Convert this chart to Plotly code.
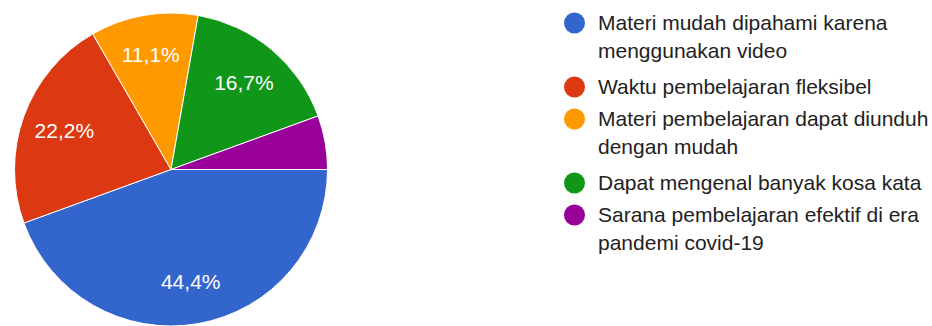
import plotly.graph_objects as go

labels = [
    "Materi mudah dipahami karena<br>menggunakan video",
    "Waktu pembelajaran fleksibel",
    "Materi pembelajaran dapat diunduh<br>dengan mudah",
    "Dapat mengenal banyak kosa kata",
    "Sarana pembelajaran efektif di era<br>pandemi covid-19",
]
values = [8, 4, 2, 3, 1]
colors = ["#3366cc", "#dc3912", "#ff9900", "#109618", "#990099"]
show_label = [True, True, True, True, False]

W, H = 932, 326
MT = 13
PH = H - MT
FONT = "Arial, 'Liberation Sans', sans-serif"

flat_labels = [l.replace("<br>", " ") for l in labels]
dom = dict(x=[14.5 / W, 327.5 / W], y=[0, 1])

fig = go.Figure()
fig.add_trace(go.Pie(
    labels=flat_labels,
    values=values,
    sort=False,
    direction="clockwise",
    rotation=90,
    marker=dict(colors=colors, line=dict(color="white", width=1)),
    textinfo="none",
    showlegend=False,
    hoverinfo="label+percent",
    domain=dom,
))
# transparent ring carrying the percentage labels (places them further out)
fig.add_trace(go.Pie(
    labels=flat_labels,
    values=values,
    sort=False,
    direction="clockwise",
    rotation=90,
    hole=0.45,
    marker=dict(colors=["rgba(0,0,0,0)"] * len(values), line=dict(width=0)),
    texttemplate=["%{percent:.1%}" if s else "" for s in show_label],
    textposition="inside",
    insidetextorientation="horizontal",
    textfont=dict(color="white", size=21, family=FONT),
    showlegend=False,
    hoverinfo="skip",
    domain=dom,
))

# Manual legend with round markers
shapes = []
annotations = []
x_dot = 574.5 / W
x_txt = 596 / W


def py(ypx):
    return 1 - (ypx - MT) / PH


y = 22.5
for lab, col in zip(labels, colors):
    lines = lab.split("<br>")
    shapes.append(dict(
        type="circle", xref="paper", yref="paper",
        xsizemode="pixel", ysizemode="pixel",
        xanchor=x_dot, yanchor=py(y + 0.5),
        x0=-10.5, x1=10.5, y0=-10.5, y1=10.5,
        fillcolor=col, line=dict(width=0),
    ))
    for j, ln in enumerate(lines):
        annotations.append(dict(
            text=ln, xref="paper", yref="paper",
            x=x_txt, y=py(y + j * 28),
            xanchor="left", yanchor="middle", showarrow=False,
            font=dict(size=21, color="#222222", family=FONT),
        ))
    y += 32 * len(lines)

fig.update_layout(
    width=W, height=H,
    margin=dict(l=0, r=0, t=MT, b=0),
    paper_bgcolor="white",
    plot_bgcolor="white",
    separators=",.",
    shapes=shapes,
    annotations=annotations,
)

fig.write_html("out.html")
